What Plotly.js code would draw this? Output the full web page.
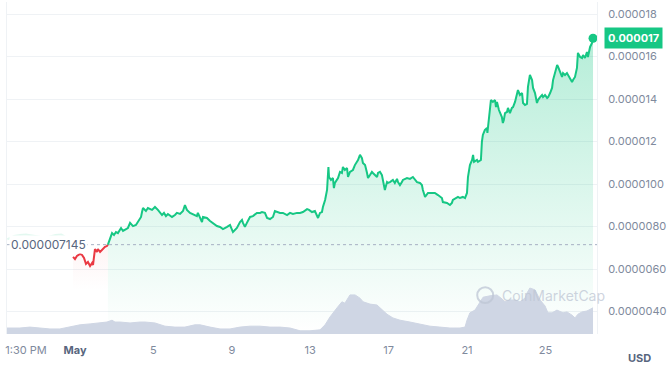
<!DOCTYPE html>
<html>
<head>
<meta charset="utf-8">
<script src="https://cdn.plot.ly/plotly-3.0.1.min.js"></script>
<style>html,body{margin:0;padding:0;background:#fff;}#chart{width:669px;height:372px;}</style>
</head>
<body>
<div id="chart"></div>
<script>
// time axis: days, 1.0 = May 1 00:00
// price values in micro-USD (x 1e-6)
const refPrice = 7.145;

const fadedT = [-2.45, -2.1, -1.8, -1.5, -1.2, -0.8, -0.4, 0.0, 0.3, 0.6, 0.9];
const fadedP = [7.40, 7.55, 7.60, 7.62, 7.58, 7.52, 7.50, 7.60, 7.62, 7.48, 7.30];

const redT = [0.90,1.00,1.10,1.26,1.36,1.46,1.56,1.66,1.77,1.87,1.92,2.02,2.12,2.17,2.28,2.43,2.53,2.63,2.68];
const redP = [6.57,6.47,6.61,6.71,6.66,6.52,6.24,6.33,6.14,6.28,6.19,6.94,6.80,6.94,6.80,6.94,7.04,7.08,7.145];

const greenT = [2.68,2.79,2.89,2.99,3.09,3.19,3.35,3.45,3.55,3.70,3.81,3.96,4.11,4.21,4.37,4.42,4.47,4.62,4.72,4.93,
5.08,5.23,5.44,5.54,5.64,5.74,5.95,6.10,6.20,6.36,6.51,6.61,6.71,6.87,7.02,7.22,7.27,7.38,7.48,7.53,
7.73,7.89,8.04,8.24,8.40,8.55,8.76,8.91,9.06,9.26,9.42,9.52,9.57,9.67,9.77,9.93,10.08,10.28,10.44,10.54,
10.69,10.80,10.95,11.10,11.20,11.30,11.46,11.61,11.82,11.97,12.12,12.33,12.48,12.63,12.84,12.94,13.09,13.24,13.40,13.50,
13.60,13.65,13.76,13.86,13.91,13.93,13.96,14.06,14.16,14.21,14.26,14.37,14.42,14.52,14.62,14.67,14.77,14.88,14.93,15.03,
15.18,15.28,15.39,15.44,15.54,15.64,15.69,15.80,15.90,15.95,16.05,16.15,16.20,16.30,16.41,16.46,16.56,16.66,16.71,16.81,
16.92,16.97,17.07,17.22,17.32,17.43,17.48,17.58,17.68,17.73,17.94,18.09,18.24,18.45,18.60,18.70,18.75,18.86,19.01,19.21,
19.36,19.52,19.72,19.77,19.98,20.13,20.23,20.28,20.49,20.54,20.64,20.79,20.90,21.00,21.05,21.15,21.26,21.31,21.36,21.51,
21.56,21.71,21.76,21.81,21.91,22.02,22.04,22.07,22.17,22.22,22.32,22.43,22.48,22.53,22.63,22.78,22.83,22.88,22.94,23.04,
23.09,23.19,23.29,23.35,23.45,23.55,23.60,23.70,23.81,23.86,23.96,24.06,24.11,24.21,24.32,24.37,24.47,24.57,24.62,24.73,
24.83,24.88,24.98,25.09,25.14,25.24,25.34,25.39,25.49,25.60,25.65,25.75,25.85,25.90,26.00,26.10,26.15,26.26,26.36,26.41,
26.51,26.61,26.66,26.77,26.87,26.92,27.02,27.12,27.17,27.28,27.38,27.43];
const greenP = [7.145,7.46,7.69,7.60,7.74,7.69,7.93,7.79,7.84,7.93,8.17,8.02,8.07,8.21,8.45,8.68,8.87,8.73,8.87,8.78,
8.92,8.78,8.54,8.64,8.49,8.59,8.45,8.54,8.64,8.59,8.73,9.01,8.78,8.64,8.59,8.49,8.64,8.40,8.21,8.45,
8.40,8.26,8.17,8.02,7.98,7.88,7.98,8.07,7.74,7.93,8.21,8.31,8.17,7.98,8.17,8.45,8.49,8.64,8.64,8.68,
8.64,8.40,8.35,8.45,8.73,8.68,8.64,8.64,8.54,8.64,8.59,8.64,8.64,8.68,8.82,8.78,8.68,8.73,8.40,8.64,
8.68,8.92,9.25,9.72,10.28,10.80,10.33,10.19,10.28,9.81,10.05,10.19,10.28,10.57,10.52,10.80,10.66,10.75,10.33,10.57,
10.66,10.89,11.04,11.13,11.37,11.22,10.99,10.89,10.52,10.28,10.42,10.57,10.52,10.42,10.33,10.52,10.57,10.42,10.19,9.72,
10.09,10.05,10.09,10.19,10.05,10.24,10.09,9.95,10.09,10.19,10.28,10.24,10.33,10.09,10.05,9.95,9.72,9.39,9.58,9.58,
9.58,9.48,9.34,9.15,9.11,9.01,9.11,9.25,9.34,9.39,9.34,9.39,9.34,9.58,10.33,10.89,11.13,11.37,11.04,11.13,
11.04,11.13,11.98,12.31,12.54,12.64,12.40,12.68,13.72,13.95,13.86,13.95,13.62,13.86,13.48,13.15,12.87,13.01,13.34,13.39,
13.58,13.34,13.58,13.62,13.86,14.28,14.42,14.19,14.28,13.81,13.72,13.77,14.57,15.13,14.89,14.52,14.28,13.81,13.95,14.09,
14.19,14.09,14.19,14.05,14.09,14.28,14.52,14.89,15.27,15.60,15.51,15.27,15.04,15.22,15.13,15.22,15.13,14.99,14.80,14.89,
15.04,15.46,16.17,15.98,15.93,16.07,15.93,16.21,15.98,16.45,16.64,16.86];

// relative volume (peak = 100)
const volT = [-2.47,-1.81,-1.30,-0.79,-0.28,0.23,0.74,1.26,1.77,2.28,2.63,2.89,3.04,3.30,3.81,4.32,4.57,5.08,5.59,6.10,
6.61,7.12,7.38,7.89,8.40,8.91,9.42,9.93,10.44,10.95,11.46,11.97,12.48,12.99,13.50,13.76,14.01,14.37,14.62,14.77,
15.03,15.29,15.54,15.70,16.05,16.41,16.71,16.92,17.22,17.58,18.09,18.60,19.11,19.62,20.13,20.64,20.90,21.00,21.15,21.41,
21.66,21.82,22.17,22.53,22.79,22.94,23.19,23.45,23.70,23.96,24.06,24.21,24.47,24.73,24.98,25.13,25.34,25.59,25.90,26.10,
26.36,26.51,26.66,26.87,27.12,27.28,27.43];
const volV = [13,13,15,13,11,11,15,20,22,24,26,30,26,26,24,26,26,24,17,15,
15,20,20,15,11,11,15,17,17,15,15,13,7,7,9,20,37,57,70,67,
85,85,78,70,65,63,52,43,35,30,26,22,17,15,13,13,15,30,46,52,
70,80,83,85,76,70,74,74,70,78,89,100,96,74,61,46,46,52,46,48,
41,35,43,48,50,54,57];

const yTickVals = [4,6,8,10,12,14,16,18];
const yTickText = ['0.0000040','0.0000060','0.0000080','0.0000100','0.000012','0.000014','0.000016','0.000018'];
const xTickVals = [-1.5,1,5,9,13,17,21,25];
const xTickText = ['1:30 PM','<span style="color:#58667e;font-weight:bold">May</span>','5','9','13','17','21','25'];
const lastPriceLabel = '0.000017';
const refLabel = '0.000007145';

const GREEN = '#16c784', RED = '#ea3943', GREY = '#808a9d';

const traces = [
  {x: fadedT, y: fadedP, type:'scatter', mode:'lines', line:{color:GREEN, width:2}, opacity:0.12, hoverinfo:'skip'},
  {x: redT, y: redP, type:'scatter', mode:'lines', line:{color:RED, width:2}, fill:'tozeroy',
   fillgradient:{type:'vertical', start:5, stop:7.2, colorscale:[[0,'rgba(234,57,67,0)'],[1,'rgba(234,57,67,0.06)']]}, hoverinfo:'skip'},
  {x: greenT, y: greenP, type:'scatter', mode:'lines', line:{color:GREEN, width:2}, fill:'tozeroy',
   fillgradient:{type:'vertical', start:3, stop:17, colorscale:[[0,'rgba(22,199,132,0)'],[1,'rgba(22,199,132,0.32)']]}, hoverinfo:'skip'},
  {x: [greenT[greenT.length-1]], y: [greenP[greenP.length-1]], type:'scatter', mode:'markers',
   marker:{color:GREEN, size:9}, hoverinfo:'skip'},
  {x: volT, y: volV, type:'scatter', mode:'lines', yaxis:'y2', line:{color:'#cfd6e4', width:1},
   fill:'tozeroy', fillcolor:'#cfd6e4', hoverinfo:'skip'}
];

const layout = {
  width: 669, height: 372,
  margin: {l:7, r:72, t:2, b:38},
  paper_bgcolor:'#fff', plot_bgcolor:'#fff',
  showlegend:false,
  font:{family:'Inter, "Noto Sans", sans-serif', size:11, color:GREY},
  xaxis:{range:[-2.469, 27.633], tickvals:xTickVals, ticktext:xTickText, showgrid:false, zeroline:false,
         showline:false, ticks:'', ticklabelstandoff:8, tickfont:{size:11, color:GREY}, fixedrange:true},
  yaxis:{range:[2.941, 18.565], side:'right', tickvals:yTickVals, ticktext:yTickText, showgrid:true,
         gridcolor:'#eff2f5', zeroline:false, showline:true, mirror:true, linecolor:'#eff2f5',
         ticks:'', ticklabelstandoff:8, tickfont:{size:11, color:GREY}, fixedrange:true},
  yaxis2:{range:[0, 722], overlaying:'y', visible:false, fixedrange:true},
  shapes:[
    {type:'line', xref:'paper', x0:0, x1:1, yref:'y', y0:refPrice, y1:refPrice,
     line:{color:'#a6b0c3', width:1, dash:'dot'}},
    {type:'circle', xref:'paper', yref:'paper', x0:0.797, x1:0.824, y0:0.093, y1:0.141,
     line:{color:'rgba(190,198,212,0.75)', width:2}}
  ],
  annotations:[
    {xref:'paper', x:0, xanchor:'left', xshift:2, yref:'y', y:refPrice, text:refLabel, showarrow:false,
     font:{size:12, color:'#58667e'}, bgcolor:'#fff', borderpad:1},
    {xref:'paper', x:1, xanchor:'left', xshift:7, yref:'y', y:greenP[greenP.length-1], text:'<b>'+lastPriceLabel+'</b>',
     showarrow:false, font:{size:11, color:'#fff'}, bgcolor:GREEN, borderpad:3},
    {xref:'paper', x:1.072, xanchor:'center', yref:'paper', y:-0.045, yanchor:'top', text:'<b>USD</b>', showarrow:false,
     font:{size:11, color:'#58667e'}},
    {xref:'paper', x:0.835, xanchor:'left', yref:'paper', y:0.115, yanchor:'middle', text:'CoinMarketCap', showarrow:false,
     font:{size:14, color:'rgba(190,198,212,0.75)'}}
  ]
};
Plotly.newPlot('chart', traces, layout, {displayModeBar:false, staticPlot:true});
</script>
</body>
</html>
